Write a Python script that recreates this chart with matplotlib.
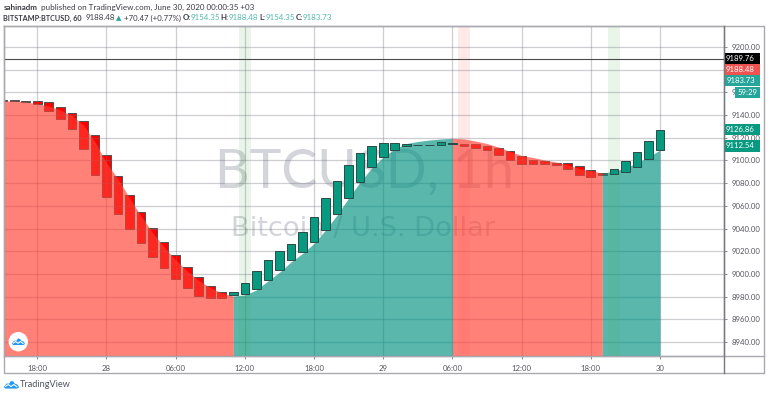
import matplotlib
matplotlib.use("Agg")
import matplotlib.pyplot as plt
import numpy as np
from matplotlib.patches import Rectangle, Polygon, Circle

plt.rcParams['font.family'] = ['Lato', 'DejaVu Sans']

# hours counted from the first 18:00 gridline
hours = list(range(-3, 55))
# candle body top / bottom in price
body_top = [9153.0, 9153.3, 9152.7, 9152.1, 9151.3, 9147.4, 9141.8, 9135.0, 9122.4, 9104.8, 9086.3, 9069.3, 9054.3, 9040.7,
            9028.1, 9016.4, 9006.1, 8997.0, 8989.1, 8983.8, 8983.8, 8992.0, 9002.3, 9012.3, 9019.9, 9026.1, 9036.7, 9049.9,
            9066.6, 9081.9, 9096.0, 9106.3, 9112.7, 9115.4, 9115.4, 9114.8, 9114.0, 9114.0, 9116.0, 9115.4, 9114.9, 9114.5,
            9112.7, 9111.2, 9108.3, 9103.9, 9100.4, 9099.3, 9098.0, 9097.5, 9095.1, 9091.6, 9088.7, 9092.4, 9099.2, 9107.4,
            9116.9, 9127.1]
body_bot = [9152.4, 9152.4, 9151.8, 9149.5, 9143.9, 9136.5, 9127.7, 9110.1, 9087.2, 9067.8, 9052.5, 9039.3, 9027.0, 9015.2,
            9004.9, 8995.5, 8987.3, 8980.8, 8978.5, 8979.0, 8981.2, 8982.6, 8987.0, 8994.9, 9003.2, 9012.0, 9019.0, 9027.9,
            9039.0, 9052.8, 9067.2, 9081.3, 9094.2, 9103.0, 9109.5, 9112.7, 9113.4, 9113.4, 9113.9, 9114.8, 9113.0, 9111.2,
            9108.9, 9104.8, 9100.1, 9097.1, 9097.1, 9096.6, 9096.0, 9092.5, 9087.4, 9085.7, 9087.2, 9087.8, 9089.8, 9094.5,
            9101.0, 9108.9]
body_up = [0]*20 + [1]*20 + [0]*13 + [1]*5
# smooth filled curve
curve = [9152.4, 9152.4, 9151.5, 9150.0, 9148.0, 9144.5, 9139.6, 9131.3, 9116.3, 9097.8, 9083.7, 9066.9, 9051.0, 9036.5,
         9023.7, 9012.3, 9002.6, 8994.2, 8988.0, 8983.2, 8980.5, 8981.4, 8985.8, 8993.8, 9001.4, 9010.5, 9018.0, 9026.8,
         9038.7, 9051.9, 9066.9, 9081.0, 9093.4, 9103.0, 9110.1, 9114.9, 9116.7, 9118.0, 9118.9, 9119.5, 9118.9, 9117.1,
         9114.9, 9111.9, 9107.9, 9104.4, 9102.6, 9100.4, 9098.6, 9096.0, 9092.9, 9090.7, 9089.0, 9090.3, 9093.4, 9097.8,
         9103.0, 9109.2]
# curve colour changes at these hours
red_spans = [(-3, 17), (36, 49)]
teal_spans = [(17, 36), (49, 54)]
green_bands = [18, 50]
red_bands = [37]
x_ticks = [0, 6, 12, 18, 24, 30, 36, 42, 48, 54]
x_labels = ['18:00', '28', '06:00', '12:00', '18:00', '29', '06:00', '12:00', '18:00', '30']
y_ticks = list(range(8940, 9201, 20))
level = 9189.76

W, H = 768, 395
fig = plt.figure(figsize=(W/100, H/100), dpi=100, facecolor='white')
def rect(l, t, r, b):
    return [l/W, 1-b/H, (r-l)/W, (b-t)/H]

FRAME = '#a9a9b2'
TXT = '#555560'

ax = fig.add_axes(rect(3.5, 26, 724.3, 355.7))
ax.set_xlim(-2.93, 59.58)
ax.set_ylim(8927.9, 9218.5)
for s in ax.spines.values():
    s.set_color(FRAME); s.set_linewidth(1.0)

x = np.array(hours, float)
top = np.array(body_top); bot = np.array(body_bot); up = np.array(body_up, bool)
cur = np.array(curve)

# watermark
WM = '#d3d5da'
ax.text((364.5-37.3)/11.53, 9241.43-0.8814*172, 'BTCUSD, 1h', color=WM, fontsize=38.7, ha='center', va='center',
        family='Lato', zorder=0.5)
ax.text((363.5-37.3)/11.53, 9241.43-0.8814*229, 'Bitcoin / U.S. Dollar', color=WM, fontsize=19.6, ha='center', va='center',
        family='DejaVu Sans', zorder=0.5)

# red candles below the translucent area
ax.bar(x[~up], (top-bot)[~up], 0.75, bot[~up], color='#ff0000', edgecolor='#505050', linewidth=0.7, zorder=2)
for a, b in red_spans:
    m = (x >= a) & (x <= b)
    ax.fill_between(x[m], ax.get_ylim()[0], cur[m], color=(1.0, 0.24, 0.19), alpha=0.65, lw=0, zorder=3)
for a, b in teal_spans:
    m = (x >= a) & (x <= b)
    ax.fill_between(x[m], ax.get_ylim()[0], cur[m], color=(0.0, 0.57, 0.50), alpha=0.65, lw=0, zorder=3)
for c in green_bands:
    ax.axvspan(c-0.5, c+0.5, color=(0.30, 0.69, 0.31), alpha=0.12, lw=0, zorder=3.2)
for c in red_bands:
    ax.axvspan(c-0.5, c+0.5, color=(1.0, 0.32, 0.32), alpha=0.12, lw=0, zorder=3.2)

ax.set_axisbelow(False)
ax.set_xticks(x_ticks, x_labels)
ax.set_yticks(y_ticks, [f'{v:.2f}' for v in y_ticks])
ax.yaxis.tick_right()
ax.grid(True, color='#70707f', alpha=0.35, linewidth=0.9)
for ln in ax.get_xgridlines()+ax.get_ygridlines():
    ln.set_zorder(3.5)
ax.tick_params(axis='both', length=2.5, width=0.7, color='#8a8a94', labelcolor=TXT, labelsize=5.6, pad=2.5)
ax.tick_params(axis='x', pad=4)
ax.bar(x[up], (top-bot)[up], 0.75, bot[up], color='#089981', edgecolor='#2a4a46', linewidth=0.7, zorder=4)
ax.axhline(level, color='#4a4a4a', lw=0.8, zorder=5)

# overlay in pixel coordinates for frame, tags, header and logos
ov = fig.add_axes([0, 0, 1, 1], facecolor='none', zorder=10)
ov.set_xlim(0, W); ov.set_ylim(H, 0); ov.axis('off')
ov.plot([3.5, 3.5, 764, 764, 3.5], [26, 373.3, 373.3, 26, 26], color=FRAME, lw=1.0)
ov.plot([3.5, 764], [355.7, 355.7], color=FRAME, lw=1.0)
ov.plot([724.3, 724.3], [26, 373.3], color='#77777f', lw=1.0)

tags = [('9189.76', 53, 64, 724.5, '#000000'), ('9188.48', 64, 74.7, 724.5, '#ef5350'),
        ('9183.73', 75.3, 86, 724.5, '#26a69a'), ('59:29', 87.3, 98, 734.7, '#26a69a'),
        ('9126.86', 124, 135.3, 724.5, '#089981'), ('9112.54', 140.3, 151.7, 724.5, '#089981')]
for t, y0, y1, x0, c in tags:
    ov.add_patch(Rectangle((x0, y0), 760-x0, y1-y0, fc=c, ec='none'))
    ov.text(758 if x0 > 730 else 755, (y0+y1)/2, t, color='white', fontsize=5.6, ha='right', va='center')

# header
DK = '#3a3a44'; LT = '#4fb8ab'
ov.text(3.3, 7.3, 'sahinadm', color=DK, fontsize=5.75, fontweight='bold', va='center')
ov.text(40.7, 7.3, 'published on TradingView.com, June 30, 2020 00:00:35 +03', color=DK, fontsize=5.75, va='center')
line2 = [(3.3, 'BITSTAMP:BTCUSD, 60', DK, 'bold', 5.2), (86, '9188.48', DK, 'normal', 5.7), (116, '▲', '#26a69a', 'normal', 5.0),
         (124, '+70.47 (+0.77%)', DK, 'normal', 5.6), (182.3, 'O:', DK, 'bold', 5.7), (190.3, '9154.35', LT, 'normal', 5.7),
         (220.7, 'H:', DK, 'bold', 5.7), (229, '9188.48', LT, 'normal', 5.7), (259.3, 'L:', DK, 'bold', 5.7), (266, '9154.35', LT, 'normal', 5.7),
         (296, 'C:', DK, 'bold', 5.7), (302.7, '9183.73', LT, 'normal', 5.7)]
for px, t, c, w, fs in line2:
    ov.text(px, 18, t, color=c, fontsize=fs, fontweight=w, va='center')

def cloud(cx, cy, s, fc, zig):
    shape = np.array([[-8, 3], [-5, -1], [-2, -1], [0, -4], [3, -3], [4, -1], [7, 0], [9, 3], [7, 4.5], [-6, 4.5]], float)
    ov.add_patch(Polygon(shape*s+[cx, cy], fc=fc, ec='none'))
    line = np.array([[-6, 2], [-3, 0], [0, 2.3], [3, 0], [6.5, 2.5]], float)
    ov.plot(*(line*s+[cx, cy]).T, color=zig, lw=0.8)

ov.add_patch(Circle((18.3, 341.7), 9.7, fc='white', ec='none'))
cloud(18, 341.5, 0.78, '#2196f3', 'white')
cloud(11, 384.5, 0.9, '#2196f3', 'white')
ov.text(20, 384.5, 'TradingView', color='#50535e', fontsize=6.6, va='center')

fig.savefig('out.png', dpi=100)
